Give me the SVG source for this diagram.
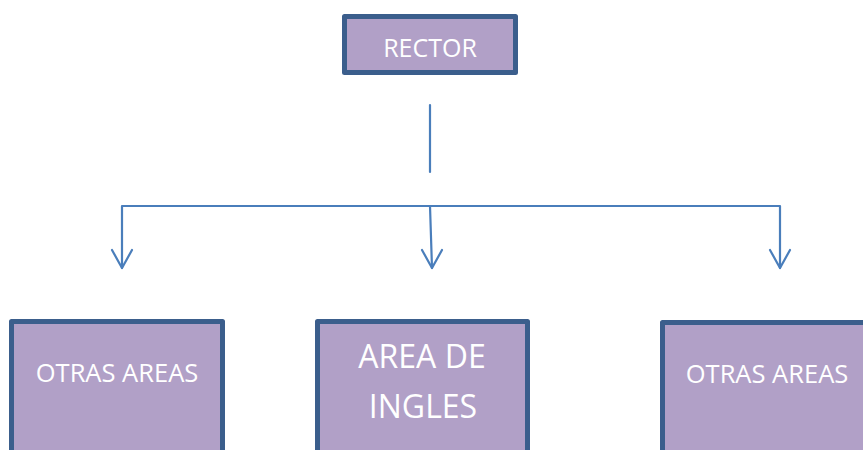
<svg xmlns="http://www.w3.org/2000/svg" width="863" height="450" viewBox="0 0 863 450">
<style>
.box{fill:#b1a0c7;stroke:#3b5e8c;stroke-width:5;stroke-linejoin:round}
.lbl{fill:#ffffff;font-family:"Open Sans","Liberation Sans",sans-serif;text-anchor:middle}
.con{fill:none;stroke:#4a7ebb;stroke-width:2.2;stroke-linecap:round;stroke-linejoin:round}
</style>
<g id="connectors">
<line class="con" x1="430" y1="105" x2="430" y2="172"/>
<polyline class="con" points="122,268 122,206 780,206 780,268"/>
<line class="con" x1="430" y1="206" x2="432" y2="268"/>
<path class="con" d="M112,250 L122,268 L132,250"/>
<path class="con" d="M422,250 L432,268 L442,250"/>
<path class="con" d="M770,250 L780,268 L790,250"/>
</g>
<g id="rector">
<rect class="box" x="344.5" y="16.5" width="171" height="56"/>
<text class="lbl" x="430" y="57" font-size="25">RECTOR</text>
</g>
<g id="otras-areas-1">
<rect class="box" x="11.5" y="321.5" width="211" height="140"/>
<text class="lbl" x="117" y="382" font-size="25.5">OTRAS AREAS</text>
</g>
<g id="area-de-ingles">
<rect class="box" x="317.5" y="321.5" width="210" height="140"/>
<text class="lbl" x="422" y="368" font-size="32">AREA DE</text>
<text class="lbl" x="423" y="418" font-size="32">INGLES</text>
</g>
<g id="otras-areas-2">
<rect class="box" x="662.5" y="322.5" width="220" height="140"/>
<text class="lbl" x="767" y="383" font-size="25.5">OTRAS AREAS</text>
</g>
</svg>
